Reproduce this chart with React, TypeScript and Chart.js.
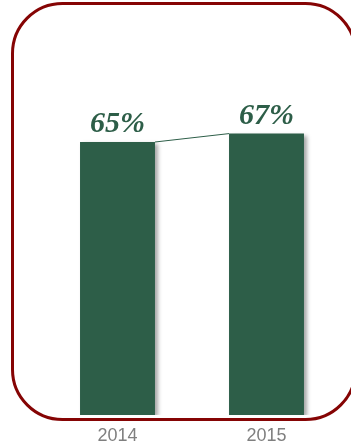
import React, { useEffect, useRef } from "react";
import { Chart, registerables } from "chart.js";

Chart.register(...registerables);

const years = ["2014", "2015"];
const shares = [65, 67];
const shareLabels = ["65%", "67%"];

const GREEN = "#2D5E48";
const FRAME = "#850404";
const AXIS_GREY = "#7F7F7F";

// Rounded frame drawn behind the plot
const framePlugin = {
  id: "roundedFrame",
  beforeDraw(chart: any) {
    const ctx = chart.ctx as CanvasRenderingContext2D;
    const x0 = 12.5, y0 = 3.5, x1 = 355.5, y1 = 419.5, r = 50;
    ctx.save();
    ctx.beginPath();
    ctx.moveTo(x0 + r, y0);
    ctx.lineTo(x1 - r, y0);
    ctx.arcTo(x1, y0, x1, y0 + r, r);
    ctx.lineTo(x1, y1 - r);
    ctx.arcTo(x1, y1, x1 - r, y1, r);
    ctx.lineTo(x0 + r, y1);
    ctx.arcTo(x0, y1, x0, y1 - r, r);
    ctx.lineTo(x0, y0 + r);
    ctx.arcTo(x0, y0, x0 + r, y0, r);
    ctx.closePath();
    ctx.lineWidth = 3;
    ctx.strokeStyle = FRAME;
    ctx.stroke();
    ctx.restore();
  },
};

// Soft drop shadow under the bars
const shadowPlugin = {
  id: "barShadow",
  beforeDatasetDraw(chart: any) {
    const ctx = chart.ctx as CanvasRenderingContext2D;
    ctx.save();
    ctx.shadowColor = "rgba(0,0,0,0.35)";
    ctx.shadowBlur = 4;
    ctx.shadowOffsetX = 3;
    ctx.shadowOffsetY = 2;
  },
  afterDatasetDraw(chart: any) {
    chart.ctx.restore();
  },
};

// Series line between bar tops and the value labels
const labelPlugin = {
  id: "valueLabels",
  afterDatasetsDraw(chart: any) {
    const ctx = chart.ctx as CanvasRenderingContext2D;
    const bars = chart.getDatasetMeta(0).data;
    ctx.save();
    ctx.strokeStyle = GREEN;
    ctx.lineWidth = 1;
    for (let i = 0; i < bars.length - 1; i++) {
      const a = bars[i], b = bars[i + 1];
      ctx.beginPath();
      ctx.moveTo(a.x + a.width / 2, a.y);
      ctx.lineTo(b.x - b.width / 2, b.y);
      ctx.stroke();
    }
    ctx.fillStyle = GREEN;
    ctx.font = "italic bold 30px 'Liberation Serif', serif";
    ctx.textAlign = "center";
    ctx.textBaseline = "alphabetic";
    bars.forEach((bar: any, i: number) => {
      ctx.fillText(shareLabels[i], bar.x, bar.y - 10);
    });
    ctx.restore();
  },
};

export default function App() {
  const canvasRef = useRef<HTMLCanvasElement | null>(null);

  useEffect(() => {
    if (!canvasRef.current) return;
    const chart = new Chart(canvasRef.current, {
      type: "bar",
      data: {
        labels: years,
        datasets: [
          {
            data: shares,
            backgroundColor: GREEN,
            borderWidth: 0,
            categoryPercentage: 1,
            barPercentage: 0.503,
          },
        ],
      },
      options: {
        responsive: false,
        animation: false,
        layout: { padding: { top: 79, left: 43, right: 10, bottom: 0 } },
        plugins: { legend: { display: false }, tooltip: { enabled: false } },
        scales: {
          x: {
            grid: { display: false, drawTicks: false },
            border: { display: false },
            afterFit(scale: any) {
              scale.height = 33;
            },
            ticks: {
              color: AXIS_GREY,
              padding: 10,
              font: { family: "'Liberation Sans', sans-serif", size: 18 },
            },
          },
          y: {
            display: false,
            min: 0,
            max: 80,
          },
        },
      },
      plugins: [framePlugin, shadowPlugin, labelPlugin],
    });
    return () => chart.destroy();
  }, []);

  return (
    <div style={{ position: "absolute", left: 0, top: 0, width: 351, height: 448, background: "#fff" }}>
      <canvas ref={canvasRef} width={351} height={448} style={{ display: "block" }} />
    </div>
  );
}
